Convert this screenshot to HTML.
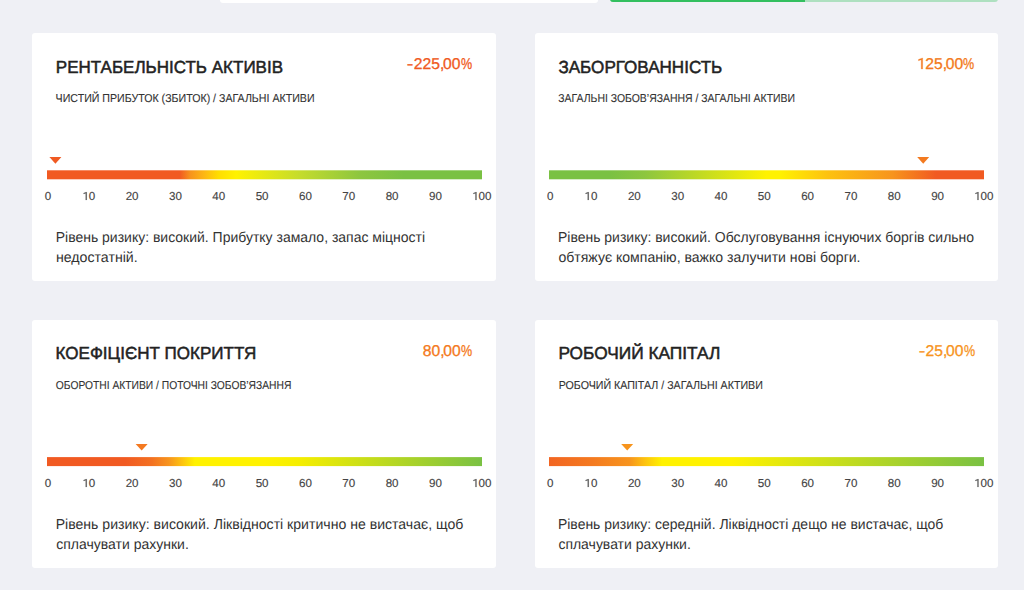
<!DOCTYPE html>
<html><head><meta charset="utf-8">
<style>
*{margin:0;padding:0;box-sizing:border-box}
html,body{width:1024px;height:590px;overflow:hidden;background:#eff0f5;font-family:"Liberation Sans",sans-serif;color:#333;text-rendering:geometricPrecision}
.a{position:absolute;white-space:nowrap;transform-origin:0 0}
.in{position:relative}
.card{position:absolute;background:#fff;border-radius:3px}
.t{font-size:17.4px;line-height:17.4px;color:#222;-webkit-text-stroke:0.5px #222}
.v{font-size:15.7px;line-height:15.7px;-webkit-text-stroke:0.3px currentColor}
.s{font-size:11.5px;line-height:11.5px;color:#333;-webkit-text-stroke:0.1px #333}
.b{font-size:14.4px;line-height:14.4px;color:#333;-webkit-text-stroke:0.0px #333}
.k{font-size:11.6px;line-height:11.6px;color:#444;-webkit-text-stroke:0.15px #444;transform:translateX(-50%)}
.pm{display:inline-block;transform:scaleX(1.25);transform-origin:100% 0;margin-right:0.3px}.pc{margin-right:-1.3px}.pp{display:inline-block;transform:scaleX(0.8);transform-origin:0 0;margin-right:-2.8px}
.bar{position:absolute;height:9px}
.one{display:inline-block;width:0.556em;height:0.698em;fill:currentColor;overflow:visible;vertical-align:-1px}.v .one{vertical-align:0}
.tri{position:absolute;width:0;height:0;border-left:6px solid transparent;border-right:6px solid transparent;border-top:6.7px solid}
</style></head><body>
<div class="a" style="left:220px;top:-4px;width:378px;height:6.6px;background:#fff;border-radius:3px"></div>
<div class="a" style="left:610px;top:-4px;width:388px;height:5.9px;background:#aee0c0;border-radius:3px;overflow:hidden"><div style="width:195px;height:100%;background:#33bf5f"></div></div>
<div class="card" style="left:32.1px;top:33.2px;width:464.2px;height:247.6px"></div>
<div id="c0t0" class="a t" style="left:55px;top:58.5px;transform:scaleX(0.9777)"><span class="in" style="left:0.85px">РЕНТАБЕЛЬНІСТЬ АКТИВІВ</span></div>
<div id="c0v1" class="a v" style="left:408px;top:57.2px; color:#f05a22;transform:scaleX(1.0000)"><span class="in" style="left:0.32px"><span class="pm">-</span>225<span class="pc">,</span>00<span class="pp">%</span></span></div>
<div id="c0s2" class="a s" style="left:55px;top:94px;transform:scaleX(0.9237)"><span class="in" style="left:0.68px">ЧИСТИЙ ПРИБУТОК (ЗБИТОК) / ЗАГАЛЬНІ АКТИВИ</span></div>
<div id="c0b3" class="a b" style="left:55px;top:230.7px;transform:scaleX(0.9716)"><span class="in" style="left:0.74px">Рівень ризику: високий. Прибутку замало, запас міцності</span></div>
<div id="c0b4" class="a b" style="left:55px;top:250.7px;transform:scaleX(0.9844)"><span class="in" style="left:0.9px">недостатній.</span></div>
<svg class="a" style="left:47px;top:156px" width="16" height="10"><polygon points="2.4,1.1 14.4,1.1 8.4,7.8" fill="#f05a22"/></svg>
<div class="bar" style="left:46.9px;top:170px;width:435.2px;background:linear-gradient(90deg,#f15a22 0%,#f15a22 30.5%,#f7941d 33%,#fdb913 36.3%,#ffde00 39.5%,#fff200 43.5%,#c5dc2c 58%,#8dc63f 72%,#7ac143 82%,#7ac143 100%);transform:translateY(0.3px)"></div>
<div class="a k" style="left:47.95px;top:190.5px">0</div>
<div class="a k" style="left:88.74px;top:190.5px"><svg class="one" viewBox="0 0 1150 1456" preserveAspectRatio="none"><path d="M745 1456H560V226L191 356V194L720 0H745Z" stroke="currentColor" stroke-width="20"/></svg>0</div>
<div class="a k" style="left:132.08px;top:190.5px">20</div>
<div class="a k" style="left:175.42px;top:190.5px">30</div>
<div class="a k" style="left:218.76px;top:190.5px">40</div>
<div class="a k" style="left:262.1px;top:190.5px">50</div>
<div class="a k" style="left:305.44px;top:190.5px">60</div>
<div class="a k" style="left:348.78px;top:190.5px">70</div>
<div class="a k" style="left:392.12px;top:190.5px">80</div>
<div class="a k" style="left:435.46px;top:190.5px">90</div>
<div class="a k" style="left:481.7px;top:190.5px"><svg class="one" viewBox="0 0 1150 1456" preserveAspectRatio="none"><path d="M745 1456H560V226L191 356V194L720 0H745Z" stroke="currentColor" stroke-width="20"/></svg>00</div>
<div class="card" style="left:535.3px;top:33.2px;width:463px;height:247.6px"></div>
<div id="c1t5" class="a t" style="left:558px;top:58.5px;transform:scaleX(0.9815)"><span class="in" style="left:0.43px">ЗАБОРГОВАННІСТЬ</span></div>
<div id="c1v6" class="a v" style="left:916px;top:57.2px; color:#f37a20;transform:scaleX(1.0000)"><span class="in" style="left:0.52px"><svg class="one" viewBox="0 0 1150 1456" preserveAspectRatio="none"><path d="M745 1456H560V226L191 356V194L720 0H745Z" stroke="currentColor" stroke-width="40"/></svg>25<span class="pc">,</span>00<span class="pp">%</span></span></div>
<div id="c1s7" class="a s" style="left:558px;top:94px;transform:scaleX(0.9068)"><span class="in" style="left:0.36px">ЗАГАЛЬНІ ЗОБОВ’ЯЗАННЯ / ЗАГАЛЬНІ АКТИВИ</span></div>
<div id="c1b8" class="a b" style="left:557px;top:230.7px;transform:scaleX(0.9715)"><span class="in" style="left:1px">Рівень ризику: високий. Обслуговування існуючих боргів сильно</span></div>
<div id="c1b9" class="a b" style="left:558px;top:250.7px;transform:scaleX(0.9768)"><span class="in" style="left:0.41px">обтяжує компанію, важко залучити нові борги.</span></div>
<svg class="a" style="left:915px;top:156px" width="16" height="10"><polygon points="2.2,1.1 14.2,1.1 8.2,7.8" fill="#f37a20"/></svg>
<div class="bar" style="left:549.2px;top:170px;width:435px;background:linear-gradient(90deg,#7ac143 0%,#7ac143 14%,#8dc63f 22%,#fff200 50%,#fff200 53%,#fdc20f 64%,#f7941d 79%,#f15a22 89%,#f15a22 100%);transform:translateY(0.3px)"></div>
<div class="a k" style="left:550.25px;top:190.5px">0</div>
<div class="a k" style="left:591.02px;top:190.5px"><svg class="one" viewBox="0 0 1150 1456" preserveAspectRatio="none"><path d="M745 1456H560V226L191 356V194L720 0H745Z" stroke="currentColor" stroke-width="20"/></svg>0</div>
<div class="a k" style="left:634.34px;top:190.5px">20</div>
<div class="a k" style="left:677.66px;top:190.5px">30</div>
<div class="a k" style="left:720.98px;top:190.5px">40</div>
<div class="a k" style="left:764.3px;top:190.5px">50</div>
<div class="a k" style="left:807.62px;top:190.5px">60</div>
<div class="a k" style="left:850.94px;top:190.5px">70</div>
<div class="a k" style="left:894.26px;top:190.5px">80</div>
<div class="a k" style="left:937.58px;top:190.5px">90</div>
<div class="a k" style="left:983.8px;top:190.5px"><svg class="one" viewBox="0 0 1150 1456" preserveAspectRatio="none"><path d="M745 1456H560V226L191 356V194L720 0H745Z" stroke="currentColor" stroke-width="20"/></svg>00</div>
<div class="card" style="left:32.1px;top:320px;width:464.2px;height:247.6px"></div>
<div id="c2t10" class="a t" style="left:55px;top:345.3px;transform:scaleX(0.9795)"><span class="in" style="left:0.57px">КОЕФІЦІЄНТ ПОКРИТТЯ</span></div>
<div id="c2v11" class="a v" style="left:422px;top:344px; color:#f47920;transform:scaleX(1.0000)"><span class="in" style="left:0.72px">80<span class="pc">,</span>00<span class="pp">%</span></span></div>
<div id="c2s12" class="a s" style="left:55px;top:380.8px;transform:scaleX(0.8935)"><span class="in" style="left:0.95px">ОБОРОТНІ АКТИВИ / ПОТОЧНІ ЗОБОВ’ЯЗАННЯ</span></div>
<div id="c2b13" class="a b" style="left:55px;top:517.5px;transform:scaleX(0.9784)"><span class="in" style="left:0.68px">Рівень ризику: високий. Ліквідності критично не вистачає, щоб</span></div>
<div id="c2b14" class="a b" style="left:56px;top:537.5px;transform:scaleX(0.9726)"><span class="in" style="left:0.28px">сплачувати рахунки.</span></div>
<svg class="a" style="left:133px;top:442px" width="16" height="10"><polygon points="2.65,1.9 14.65,1.9 8.65,8.6" fill="#f47920"/></svg>
<div class="bar" style="left:46.9px;top:457px;width:435.2px;background:linear-gradient(90deg,#f15a22 0%,#f15a22 18%,#f37021 24%,#f7941d 28%,#fdc20f 31%,#fff200 34%,#fff200 50%,#f5ee00 58%,#7ac143 100%);transform:translateY(0.1px)"></div>
<div class="a k" style="left:47.95px;top:477.5px">0</div>
<div class="a k" style="left:88.74px;top:477.5px"><svg class="one" viewBox="0 0 1150 1456" preserveAspectRatio="none"><path d="M745 1456H560V226L191 356V194L720 0H745Z" stroke="currentColor" stroke-width="20"/></svg>0</div>
<div class="a k" style="left:132.08px;top:477.5px">20</div>
<div class="a k" style="left:175.42px;top:477.5px">30</div>
<div class="a k" style="left:218.76px;top:477.5px">40</div>
<div class="a k" style="left:262.1px;top:477.5px">50</div>
<div class="a k" style="left:305.44px;top:477.5px">60</div>
<div class="a k" style="left:348.78px;top:477.5px">70</div>
<div class="a k" style="left:392.12px;top:477.5px">80</div>
<div class="a k" style="left:435.46px;top:477.5px">90</div>
<div class="a k" style="left:481.7px;top:477.5px"><svg class="one" viewBox="0 0 1150 1456" preserveAspectRatio="none"><path d="M745 1456H560V226L191 356V194L720 0H745Z" stroke="currentColor" stroke-width="20"/></svg>00</div>
<div class="card" style="left:535.3px;top:320px;width:463px;height:247.6px"></div>
<div id="c3t15" class="a t" style="left:558px;top:345.3px;transform:scaleX(0.9947)"><span class="in" style="left:0.42px">РОБОЧИЙ КАПІТАЛ</span></div>
<div id="c3v16" class="a v" style="left:920px;top:344px; color:#f7941d;transform:scaleX(1.0000)"><span class="in" style="left:0.02px"><span class="pm">-</span>25<span class="pc">,</span>00<span class="pp">%</span></span></div>
<div id="c3s17" class="a s" style="left:558px;top:380.8px;transform:scaleX(0.9253)"><span class="in" style="left:0.7px">РОБОЧИЙ КАПІТАЛ / ЗАГАЛЬНІ АКТИВИ</span></div>
<div id="c3b18" class="a b" style="left:557px;top:517.5px;transform:scaleX(0.9695)"><span class="in" style="left:1.01px">Рівень ризику: середній. Ліквідності дещо не вистачає, щоб</span></div>
<div id="c3b19" class="a b" style="left:558px;top:537.5px;transform:scaleX(0.9718)"><span class="in" style="left:0.41px">сплачувати рахунки.</span></div>
<svg class="a" style="left:619px;top:442px" width="16" height="10"><polygon points="2.2,1.9 14.2,1.9 8.2,8.6" fill="#f7941d"/></svg>
<div class="bar" style="left:549.2px;top:457px;width:435px;background:linear-gradient(90deg,#f26522 0%,#f47a20 10%,#f7941d 18.5%,#fdc20f 22%,#fff200 26%,#fff200 42%,#7ac143 100%);transform:translateY(0.1px)"></div>
<div class="a k" style="left:550.25px;top:477.5px">0</div>
<div class="a k" style="left:591.02px;top:477.5px"><svg class="one" viewBox="0 0 1150 1456" preserveAspectRatio="none"><path d="M745 1456H560V226L191 356V194L720 0H745Z" stroke="currentColor" stroke-width="20"/></svg>0</div>
<div class="a k" style="left:634.34px;top:477.5px">20</div>
<div class="a k" style="left:677.66px;top:477.5px">30</div>
<div class="a k" style="left:720.98px;top:477.5px">40</div>
<div class="a k" style="left:764.3px;top:477.5px">50</div>
<div class="a k" style="left:807.62px;top:477.5px">60</div>
<div class="a k" style="left:850.94px;top:477.5px">70</div>
<div class="a k" style="left:894.26px;top:477.5px">80</div>
<div class="a k" style="left:937.58px;top:477.5px">90</div>
<div class="a k" style="left:983.8px;top:477.5px"><svg class="one" viewBox="0 0 1150 1456" preserveAspectRatio="none"><path d="M745 1456H560V226L191 356V194L720 0H745Z" stroke="currentColor" stroke-width="20"/></svg>00</div>
</body></html>
